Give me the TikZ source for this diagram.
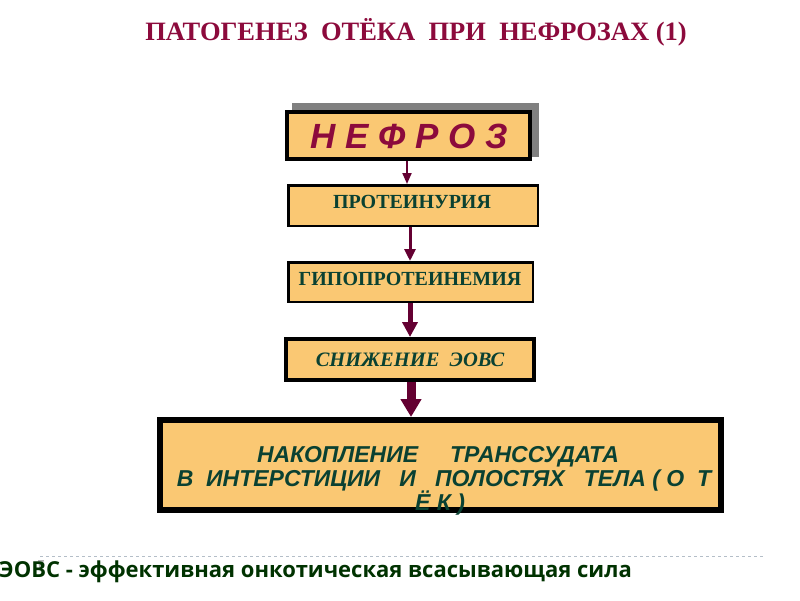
\documentclass[tikz,border=0pt]{standalone}
\usepackage{fontspec}
\setmainfont{Liberation Serif}
\newfontfamily\arialf{Liberation Sans}
\newfontfamily\notef{Open Sans}
\usetikzlibrary{arrows.meta}
\definecolor{boxfill}{RGB}{250,200,115}
\definecolor{titlered}{RGB}{140,10,60}
\definecolor{txtgreen}{RGB}{10,65,50}
\definecolor{arrowc}{RGB}{100,0,50}
\definecolor{notegreen}{RGB}{0,50,0}
\definecolor{dashc}{RGB}{180,190,200}
\definecolor{shadowc}{RGB}{128,128,128}
\tikzset{
  flowbox/.style={draw=black, fill=boxfill, rectangle, inner sep=0pt},
  flowarrow/.style={draw=arrowc, line width=#1},
  lbl/.style={inner sep=0pt, text=txtgreen}
}
\begin{document}
\begin{tikzpicture}[x=1pt,y=-1pt]
\useasboundingbox (0,0) rectangle (800,600);
% title
\node[text=titlered, font=\fontsize{26.5}{30}\selectfont\bfseries, anchor=base] (title) at (416,40) {ПАТОГЕНЕЗ\ \ ОТЁКА\ \ ПРИ\ \ НЕФРОЗАХ (1)};
% shadow + boxes
\fill[shadowc] (292,103) rectangle (539,157);
\node[flowbox, line width=4pt, minimum width=243pt, minimum height=47pt] (b1) at (408.5,135.5) {};
\node[flowbox, line width=2.5pt, minimum width=249.5pt, minimum height=40.5pt] (b2) at (413,205.5) {};
\node[flowbox, line width=2.5pt, minimum width=244.5pt, minimum height=39.5pt] (b3) at (410.5,282) {};
\node[flowbox, line width=4pt, minimum width=248pt, minimum height=41pt] (b4) at (410,359.5) {};
\node[flowbox, line width=6pt, minimum width=561pt, minimum height=90pt] (b5) at (440.5,465) {};
% labels
\node[lbl, text=titlered, anchor=base, font=\arialf\fontsize{35}{38}\selectfont\bfseries\itshape] (t1) at (409,148) {Н\ Е\ Ф\ Р\ О\ З};
\node[lbl, anchor=base, font=\fontsize{20}{24}\selectfont\bfseries] (t2) at (412,208) {ПРОТЕИНУРИЯ};
\node[lbl, anchor=base, font=\fontsize{20}{24}\selectfont\bfseries] (t3) at (410,285) {ГИПОПРОТЕИНЕМИЯ};
\node[lbl, anchor=base, font=\fontsize{20.5}{24}\selectfont\bfseries\itshape] (t4) at (410,366) {СНИЖЕНИЕ\ \ ЭОВС};
\node[lbl, anchor=base, font=\arialf\fontsize{23}{24}\selectfont\bfseries\itshape] (t5a) at (438,462) {НАКОПЛЕНИЕ\ \ \ \ \ ТРАНССУДАТА};
\node[lbl, anchor=base, font=\arialf\fontsize{23}{24}\selectfont\bfseries\itshape] (t5b) at (444,486) {В\ \ ИНТЕРСТИЦИИ\ \ \ И\ \ \ ПОЛОСТЯХ\ \ \ ТЕЛА ( О\ \ Т};
\node[lbl, anchor=base, font=\arialf\fontsize{23}{24}\selectfont\bfseries\itshape] (t5c) at (440,510) {Ё К )};
% arrows
\draw[flowarrow=2pt, -{Triangle[length=11pt,width=9pt]}] (b1.south -| 407,0) -- (b2.north -| 407,0);
\draw[flowarrow=3pt, -{Triangle[length=12pt,width=11pt]}] (b2.south -| 410,0) -- (b3.north -| 410,0);
\draw[flowarrow=5pt, -{Triangle[length=15pt,width=15pt]}] (b3.south -| 410,0) -- (b4.north -| 410,0);
\draw[flowarrow=9pt, -{Triangle[length=18pt,width=20pt]}] (b4.south -| 411,0) -- (b5.north -| 411,0);
% note
\coordinate (dl) at (40,556);
\coordinate (dr) at (765,556);
\draw[dashc, dashed, line width=0.8pt] (dl) -- (dr);
\fill[gray!60] (38,560) -- (44,560) -- (40,572) -- cycle;
\node[anchor=base west, inner sep=0pt, text=notegreen, font=\notef\fontsize{22}{26}\selectfont\bfseries] (note) at (-1,577) {ЭОВС - эффективная онкотическая всасывающая сила};
\end{tikzpicture}
\end{document}
